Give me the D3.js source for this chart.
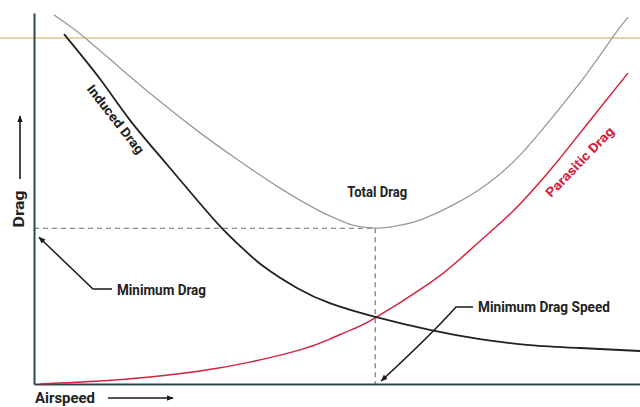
<!DOCTYPE html>
<html>
<head>
<meta charset="utf-8">
<script src="https://cdn.jsdelivr.net/npm/d3@7"></script>
<style>
  html, body { margin: 0; padding: 0; background: #fff; }
  svg { display: block; }
  text { font-family: "Roboto", "Liberation Sans", sans-serif; font-weight: 700; }
</style>
</head>
<body>
<svg id="chart" width="640" height="407"></svg>
<script>
// ---- Data (airspeed 0-100, drag 0-100) ----
const totalSpeed  = [3.3, 5.9, 8.4, 14.2, 20.3, 26.6, 33.2, 40.6, 46.0, 48.8, 51.7, 53.8, 56.3, 58.7, 60.4, 63.7, 69.1, 74.8, 80.2, 85.6, 91.3, 95.5, 98.0];
const totalDrag   = [99.5, 96.5, 93.3, 85.2, 76.8, 68.7, 60.9, 52.8, 47.6, 45.3, 43.3, 42.4, 42.0, 42.3, 42.8, 44.2, 48.2, 53.9, 61.7, 72.0, 83.8, 93.5, 98.9];

const inducedSpeed = [4.95, 10.9, 15.8, 21.3, 26.9, 31.0, 34.0, 37.8, 43.4, 48.8, 56.3, 65.3, 73.6, 81.8, 90.1, 100];
const inducedDrag  = [94.3, 82.2, 71.2, 60.4, 49.6, 42.0, 37.2, 31.8, 25.9, 21.8, 18.1, 14.6, 12.1, 10.5, 9.7, 8.9];

const parasiticSpeed = [1.0, 10.9, 19.1, 27.4, 35.6, 43.9, 48.8, 52.6, 56.3, 65.3, 70.3, 76.4, 80.2, 85.6, 91.3, 98.0];
const parasiticDrag  = [0.0, 0.8, 1.9, 3.5, 5.9, 9.2, 12.1, 14.8, 17.8, 27.2, 33.7, 42.6, 48.5, 58.5, 70.1, 83.8];

const minDragSpeed = 56.3;
const minDrag = 42.0;

const labels = {
  yAxis: "Drag", xAxis: "Airspeed", total: "Total Drag", induced: "Induced Drag",
  parasitic: "Parasitic Drag", minDrag: "Minimum Drag", minDragSpeed: "Minimum Drag Speed"
};

// ---- Layout ----
const svg = d3.select("#chart");
const x = d3.scaleLinear().domain([0, 100]).range([34, 640]);
const y = d3.scaleLinear().domain([0, 100]).range([384, 13]);

const defs = svg.append("defs");
defs.append("marker").attr("id", "arr").attr("viewBox", "0 0 10 10")
  .attr("refX", 9).attr("refY", 5).attr("markerWidth", 7).attr("markerHeight", 7)
  .attr("markerUnits", "userSpaceOnUse").attr("orient", "auto")
  .append("path").attr("d", "M0,1 L10,5 L0,9 Z").attr("fill", "#1a1a1a");

// page edge line (tan)
svg.append("line").attr("x1", 0).attr("x2", 640).attr("y1", 38).attr("y2", 38)
  .attr("stroke", "#ead2b0").attr("stroke-width", 2);

// dashed guides
svg.append("line").attr("x1", x(0)).attr("x2", x(minDragSpeed))
  .attr("y1", y(minDrag)).attr("y2", y(minDrag))
  .attr("stroke", "#6a6a6a").attr("stroke-width", 1.1).attr("stroke-dasharray", "5,4");
svg.append("line").attr("x1", x(minDragSpeed)).attr("x2", x(minDragSpeed))
  .attr("y1", y(minDrag)).attr("y2", y(0))
  .attr("stroke", "#6a6a6a").attr("stroke-width", 1.1).attr("stroke-dasharray", "5,4");

// axes (lines only)
const axisColor = "#2c4a4a";
const xAxis = svg.append("g").attr("transform", `translate(0,${y(0)})`)
  .call(d3.axisBottom(x).tickValues([]).tickSizeOuter(0));
xAxis.select(".domain").attr("stroke", axisColor).attr("stroke-width", 2);
const yAxis = svg.append("g").attr("transform", `translate(${x(0)},0)`)
  .call(d3.axisLeft(y).tickValues([]).tickSizeOuter(0));
yAxis.select(".domain").attr("stroke", axisColor).attr("stroke-width", 2);

// curves
const line = d3.line().x(d => x(d[0])).y(d => y(d[1])).curve(d3.curveNatural);
svg.append("path").datum(d3.zip(totalSpeed, totalDrag)).attr("d", line)
  .attr("fill", "none").attr("stroke", "#9a9a9a").attr("stroke-width", 1.3);
svg.append("path").datum(d3.zip(parasiticSpeed, parasiticDrag)).attr("d", line)
  .attr("fill", "none").attr("stroke", "#d4203c").attr("stroke-width", 1.5);
svg.append("path").datum(d3.zip(inducedSpeed, inducedDrag)).attr("d", line)
  .attr("fill", "none").attr("stroke", "#222").attr("stroke-width", 1.8);

// ---- Text & annotations ----
const ink = "#222";
function label(sel, txt, size, len) {
  return sel.attr("font-size", size).attr("textLength", len)
    .attr("lengthAdjust", "spacingAndGlyphs").text(txt);
}
// y-axis label + arrow
label(svg.append("text").attr("transform", "translate(24,209) rotate(-90)")
  .attr("text-anchor", "middle").attr("fill", ink), labels.yAxis, 14, 37);
svg.append("line").attr("x1", 20).attr("x2", 20).attr("y1", 179).attr("y2", 116)
  .attr("stroke", "#1a1a1a").attr("stroke-width", 1.6).attr("marker-end", "url(#arr)");

// x-axis label + arrow
label(svg.append("text").attr("x", 35).attr("y", 403).attr("fill", ink), labels.xAxis, 15, 60);
svg.append("line").attr("x1", 108).attr("x2", 173).attr("y1", 398).attr("y2", 398)
  .attr("stroke", "#1a1a1a").attr("stroke-width", 1.6).attr("marker-end", "url(#arr)");

// Total Drag
label(svg.append("text").attr("x", x(minDragSpeed) + 2).attr("y", y(minDrag) - 31)
  .attr("text-anchor", "middle").attr("fill", ink), labels.total, 14, 60);

// Induced Drag (along curve)
label(svg.append("text").attr("transform", "translate(112,122) rotate(52)")
  .attr("text-anchor", "middle").attr("fill", ink), labels.induced, 13, 84);

// Parasitic Drag (along curve)
label(svg.append("text").attr("transform", "translate(583,165) rotate(-46)")
  .attr("text-anchor", "middle").attr("fill", "#d4203c"), labels.parasitic, 13, 92);

// Minimum Drag annotation
label(svg.append("text").attr("x", 117).attr("y", 295).attr("fill", ink), labels.minDrag, 14, 89);
svg.append("path").attr("d", `M112,289 L93,289 L${x(0) + 5},${y(minDrag) + 9}`)
  .attr("fill", "none").attr("stroke", "#1a1a1a").attr("stroke-width", 1.5).attr("marker-end", "url(#arr)");

// Minimum Drag Speed annotation
label(svg.append("text").attr("x", 478).attr("y", 312).attr("fill", ink), labels.minDragSpeed, 14, 132);
svg.append("path").attr("d", `M473,307 L456,307 Q432,334 ${x(minDragSpeed) + 6},${y(0) - 3}`)
  .attr("fill", "none").attr("stroke", "#1a1a1a").attr("stroke-width", 1.5).attr("marker-end", "url(#arr)");
</script>
</body>
</html>
